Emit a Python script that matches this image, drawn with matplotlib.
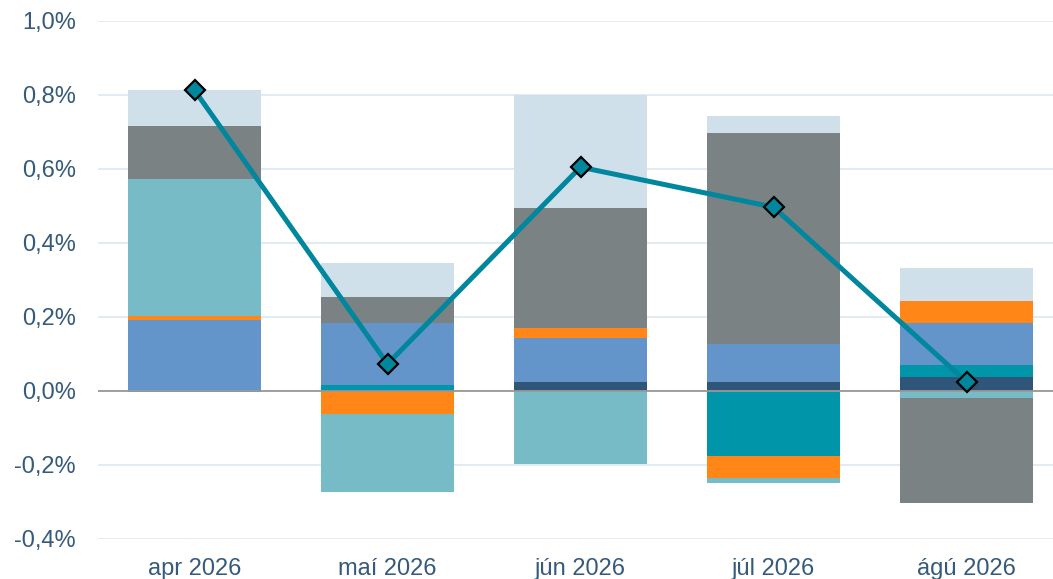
import numpy as np
import matplotlib.pyplot as plt
from matplotlib.ticker import FuncFormatter

plt.rcParams['font.family'] = ['Liberation Sans', 'DejaVu Sans']

months = ['apr 2026', 'maí 2026', 'jún 2026', 'júl 2026', 'ágú 2026']

# components (in %), stacking order from zero outwards
navy = [0.0, 0.002, 0.025, 0.025, 0.039]
teal = [-0.003, 0.015, 0.0, -0.175, 0.031]
blue = [0.192, 0.166, 0.117, 0.101, 0.113]
orange = [0.012, -0.062, 0.029, -0.059, 0.060]
lightteal = [0.369, -0.210, -0.198, -0.014, -0.020]
gray = [0.143, 0.072, 0.324, 0.571, -0.284]
lightblue = [0.097, 0.090, 0.305, 0.046, 0.089]
total = [0.813, 0.073, 0.605, 0.497, 0.025]

series = [navy, teal, blue, orange, lightteal, gray, lightblue]
colors = ['#2F5579', '#0095A8', '#6394CA', '#FF8617', '#77BBC7', '#7A8283', '#CFE0EA']

fig = plt.figure(figsize=(10.53, 5.79), dpi=100)
ax = fig.add_axes([98/1053, 40/579, 965/1053, 518/579])

x = np.arange(len(months))
pos_bottom = np.zeros(len(months))
neg_bottom = np.zeros(len(months))
for vals, c in zip(series, colors):
    v = np.array(vals)
    bottom = np.where(v >= 0, pos_bottom, neg_bottom)
    ax.bar(x, v, 0.69, bottom=bottom, color=c, zorder=2)
    pos_bottom += np.where(v >= 0, v, 0)
    neg_bottom += np.where(v < 0, v, 0)

ax.plot(x, total, color='#00879E', lw=3.6, marker='D', markersize=10.5,
        markerfacecolor='#00879E', markeredgecolor='black', markeredgewidth=1.6, zorder=4)

ax.axhline(0, color='#999999', lw=1.3, zorder=3)
ax.set_xlim(-0.5, 4.5)
ax.set_ylim(-0.4, 1.0)
ax.set_yticks(np.arange(-0.4, 1.01, 0.2))
ax.yaxis.set_major_formatter(FuncFormatter(lambda v, p: ('%.1f%%' % v).replace('.', ',').replace('-0,0', '0,0')))
ax.grid(axis='y', color='#DDE6F0', lw=1.2, zorder=0)
ax.set_axisbelow(True)
ax.set_xticks(x)
ax.set_xticklabels(months)
ax.tick_params(axis='both', length=0, labelsize=17, colors='#355A7C')
ax.tick_params(axis='x', pad=14)
ax.tick_params(axis='y', pad=16)
for s in ax.spines.values():
    s.set_visible(False)

fig.savefig('out.png', dpi=100)
